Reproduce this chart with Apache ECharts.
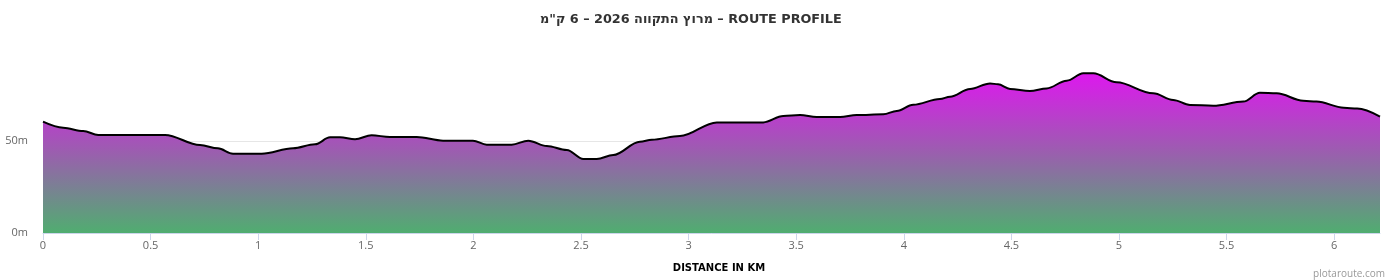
<!DOCTYPE html>
<html>
<head>
<meta charset="utf-8">
<script src="https://cdn.jsdelivr.net/npm/echarts@6/dist/echarts.min.js"></script>
<style>
html,body{margin:0;padding:0;background:#fff;}
#chart{width:1400px;height:280px;}
</style>
</head>
<body>
<div id="chart"></div>
<script>
var titleText = 'מרוץ התקווה 2026 – 6 ק"מ – ROUTE PROFILE';
var distanceKm = [0, 0.094, 0.187, 0.257, 0.567, 0.730, 0.813, 0.883, 1.016, 1.162, 1.264, 1.334, 1.380, 1.450, 1.527, 1.612, 1.737, 1.859, 1.998, 2.062, 2.178, 2.255, 2.341, 2.434, 2.511, 2.573, 2.650, 2.774, 2.829, 2.960, 3.131, 3.347, 3.440, 3.518, 3.595, 3.704, 3.781, 3.905, 3.967, 4.044, 4.168, 4.215, 4.308, 4.401, 4.438, 4.494, 4.586, 4.664, 4.757, 4.834, 4.881, 4.989, 5.159, 5.252, 5.330, 5.438, 5.578, 5.655, 5.733, 5.856, 5.918, 6.045, 6.107, 6.213];
var elevationM = [60.5, 57.2, 55.4, 53.3, 53.3, 47.8, 46.0, 43.1, 43.1, 46.0, 48.2, 52.0, 52.0, 51.0, 53.1, 52.2, 52.2, 50.2, 50.2, 48.0, 48.0, 50.2, 47.3, 45.1, 40.2, 40.2, 42.4, 49.6, 50.7, 52.7, 60.1, 60.1, 63.6, 64.1, 63.0, 63.0, 64.1, 64.5, 66.3, 69.7, 72.8, 74.1, 78.3, 81.3, 80.8, 78.3, 77.2, 78.6, 82.8, 86.8, 86.8, 81.9, 75.9, 72.3, 69.6, 69.2, 71.4, 76.2, 75.9, 71.9, 71.4, 68.1, 67.6, 63.2];
var xTicks = [0, 0.5, 1, 1.5, 2, 2.5, 3, 3.5, 4, 4.5, 5, 5.5, 6];
var yTicks = [0, 50];
var xAxisName = 'DISTANCE IN KM';
var creditText = 'plotaroute.com';

var data = distanceKm.map(function (d, i) { return [d, elevationM[i]]; });
var FONT = '"DejaVu Sans", Verdana, sans-serif';
var LABELFONT = '"Open Sans", "DejaVu Sans", sans-serif';

var chart = echarts.init(document.getElementById('chart'), null, {renderer: 'canvas'});
chart.setOption({
  animation: false,
  backgroundColor: '#ffffff',
  title: [{
    text: titleText,
    left: 535,
    top: 8,
    textStyle: {fontFamily: FONT, fontSize: 12.8, fontWeight: 'bold', color: '#333333'}
  }, {
    text: creditText,
    right: 10,
    top: 264,
    textStyle: {fontFamily: LABELFONT, fontSize: 10, fontWeight: 'normal', color: '#999999'}
  }],
  grid: {left: 43, right: 20, top: 49, bottom: 47, containLabel: false},
  xAxis: {
    type: 'value',
    min: 0,
    max: distanceKm[distanceKm.length - 1],
    interval: 0.5,
    name: xAxisName,
    nameLocation: 'middle',
    nameGap: 30,
    nameTextStyle: {fontFamily: FONT, fontSize: 10, fontWeight: 'bold', color: '#000000', padding: [0, 0, 0, 15]},
    axisLine: {show: true, lineStyle: {color: '#ccd6eb', width: 1}},
    axisTick: {show: true, length: 7, customValues: xTicks, lineStyle: {color: '#ccd6eb'}},
    axisLabel: {customValues: xTicks, fontFamily: LABELFONT, fontSize: 11, color: '#666666', margin: 7},
    splitLine: {show: false}
  },
  yAxis: {
    type: 'value',
    min: 0,
    max: 100,
    interval: 50,
    axisLine: {show: false},
    axisTick: {show: false},
    axisLabel: {
      customValues: yTicks,
      formatter: function (v) { return v + 'm'; },
      fontFamily: LABELFONT, fontSize: 11, color: '#666666', margin: 15
    },
    splitLine: {show: true, lineStyle: {color: ['#e6e6e6', '#e6e6e6', 'rgba(0,0,0,0)'], width: 1}}
  },
  series: [{
    type: 'line',
    data: data,
    smooth: 0.35,
    smoothMonotone: 'x',
    showSymbol: false,
    symbol: 'none',
    lineStyle: {color: '#000000', width: 2},
    areaStyle: {
      opacity: 1,
      color: new echarts.graphic.LinearGradient(0, 0, 0, 1, [
        {offset: 0, color: '#dd18ee'},
        {offset: 0.5, color: '#9a5fae'},
        {offset: 1, color: '#50ad70'}
      ])
    }
  }]
});
</script>
</body>
</html>
